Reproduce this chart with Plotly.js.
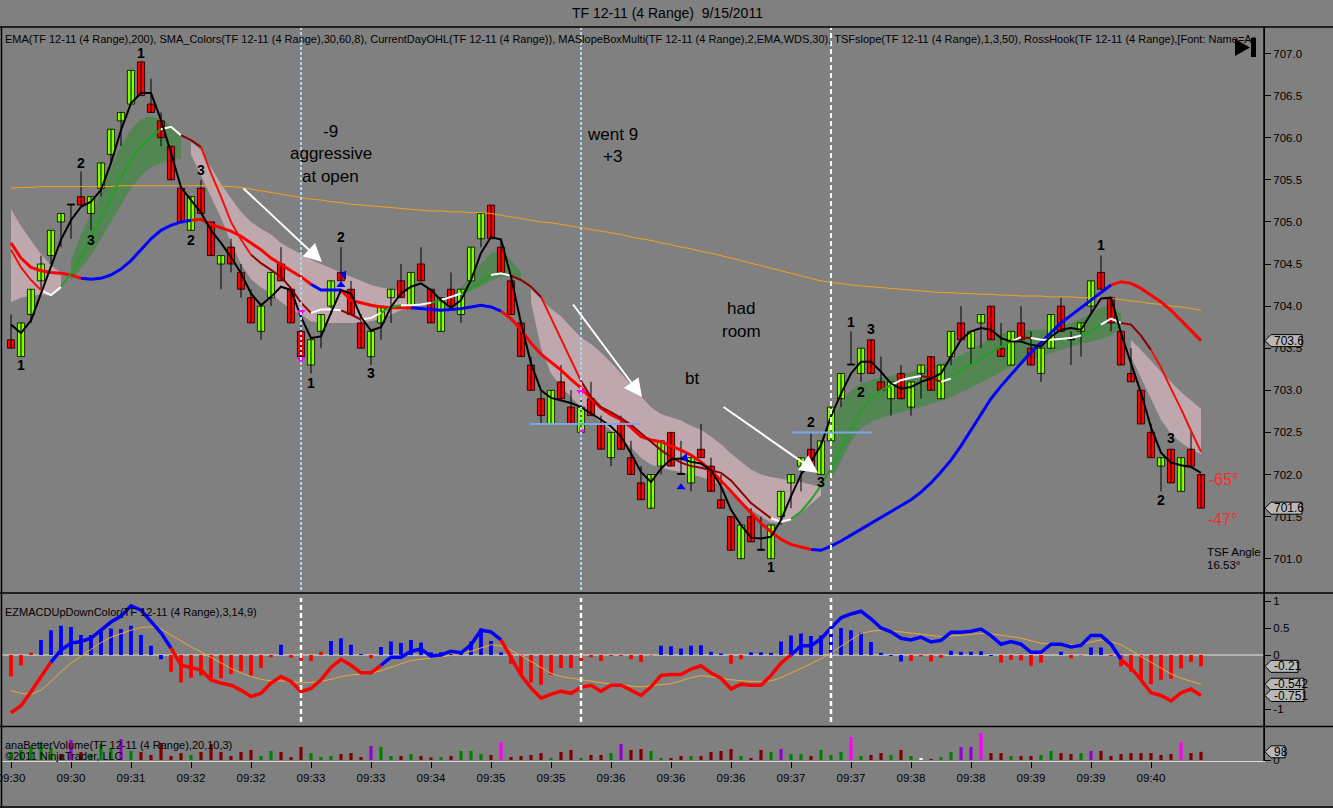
<!DOCTYPE html>
<html><head><meta charset="utf-8">
<script src="https://cdn.plot.ly/plotly-3.0.1.min.js"></script>
<style>html,body{margin:0;padding:0;background:#808080;}#chart{width:1333px;height:808px;}</style>
</head><body><div id="chart"></div>
<script>
// ---------------- DATA ----------------
const timeLabels = ["09:30","09:30","09:31","09:32","09:32","09:33","09:33","09:34","09:35","09:35","09:36","09:36","09:36","09:37","09:37","09:38","09:38","09:39","09:39","09:40"];
const openP = [703.6,703.4,703.9,704.3,704.6,705.0,705.2,705.3,705.1,705.4,705.8,706.2,706.4,706.9,706.4,706.2,705.9,705.4,704.9,705.4,705.0,704.5,704.7,704.4,704.1,703.7,704.1,704.5,704.2,703.7,703.3,703.7,704.0,704.4,704.2,703.8,703.4,703.8,704.1,704.3,704.0,704.5,704.2,703.7,704.2,703.9,704.3,704.8,705.2,704.7,704.3,703.8,703.3,702.9,702.6,703.1,702.8,702.5,702.9,702.6,702.2,702.6,702.2,701.9,701.6,702.1,702.5,702.0,701.9,702.3,702.1,701.7,701.5,701.0,701.5,701.1,701.0,701.5,701.9,702.1,702.3,702.0,702.4,702.9,703.3,703.2,703.6,703.1,702.9,703.2,702.8,703.2,703.4,702.9,703.4,703.8,703.5,703.8,704.0,703.5,703.3,703.8,703.5,703.2,703.5,704.0,703.6,703.7,704.0,704.4,704.1,703.7,703.2,703.0,702.5,702.1,702.3,701.8,702.3,702.0];
const highP = [703.9,703.8,704.2,704.6,704.9,705.1,705.2,705.6,705.3,705.7,706.1,706.3,706.8,706.9,706.7,706.3,705.9,705.4,705.3,705.5,705.0,704.6,704.8,704.5,704.2,704.0,704.4,704.7,704.2,703.8,703.6,703.9,704.3,704.7,704.3,703.9,703.7,704.0,704.2,704.5,704.4,704.7,704.2,704.1,704.4,704.2,704.7,705.1,705.2,704.8,704.3,703.8,703.4,703.0,703.0,703.3,703.0,702.9,703.1,702.7,702.5,702.7,702.4,702.1,702.0,702.4,702.5,702.4,702.2,702.6,702.2,702.0,701.5,701.4,701.6,701.5,701.4,701.8,702.0,702.2,702.5,702.4,702.8,703.2,703.7,703.5,703.6,703.4,703.1,703.3,703.1,703.3,703.4,703.3,703.7,704.0,703.7,703.9,704.0,703.8,703.7,704.0,703.7,703.5,703.9,704.1,703.7,703.8,704.3,704.6,704.1,703.7,703.5,703.0,702.6,702.2,702.3,702.2,702.5,702.0];
const lowP = [703.5,703.4,703.8,704.2,704.5,704.7,704.8,705.2,704.9,705.3,705.7,705.9,706.4,706.5,706.3,705.9,705.5,705.0,704.9,705.1,704.6,704.2,704.4,704.1,703.8,703.6,704.0,704.3,703.8,703.4,703.2,703.5,703.9,704.3,703.9,703.5,703.3,703.6,703.8,704.1,704.0,704.3,703.8,703.7,704.0,703.8,704.3,704.7,704.8,704.4,703.9,703.4,703.0,702.6,702.6,702.9,702.6,702.5,702.7,702.3,702.1,702.3,702.0,701.7,701.6,702.0,702.1,702.0,701.8,702.2,701.8,701.6,701.1,701.0,701.2,701.1,701.0,701.4,701.6,701.8,702.1,702.0,702.4,702.8,703.3,703.1,703.2,703.0,702.7,702.9,702.7,702.9,703.0,702.9,703.3,703.6,703.3,703.5,703.6,703.4,703.3,703.6,703.3,703.1,703.5,703.7,703.3,703.4,703.9,704.2,703.7,703.3,703.1,702.6,702.2,701.8,701.9,701.8,702.1,701.6];
const closeP = [703.5,703.8,704.2,704.5,704.9,705.1,705.2,705.2,705.3,705.7,706.1,706.3,706.8,706.5,706.3,706.0,705.5,705.0,705.3,705.1,704.6,704.6,704.5,704.2,703.8,704.0,704.4,704.3,703.8,703.4,703.6,703.9,704.3,704.3,703.9,703.5,703.7,704.0,704.2,704.1,704.4,704.3,703.8,704.1,704.0,704.2,704.7,705.1,704.8,704.4,703.9,703.4,703.0,702.7,703.0,702.9,702.6,702.8,702.7,702.3,702.5,702.3,702.0,701.7,702.0,702.4,702.1,702.0,702.2,702.2,701.8,701.6,701.1,701.4,701.2,701.1,701.4,701.8,702.0,702.2,702.1,702.4,702.8,703.2,703.3,703.5,703.2,703.0,703.1,702.9,703.1,703.3,703.0,703.3,703.7,703.6,703.7,703.9,703.6,703.4,703.7,703.6,703.3,703.5,703.9,703.7,703.6,703.8,704.3,704.2,703.8,703.3,703.1,702.6,702.2,702.2,701.9,702.2,702.1,701.6];
const ema200 = [705.40,705.41,705.41,705.42,705.42,705.42,705.42,705.42,705.42,705.42,705.42,705.43,705.43,705.43,705.43,705.43,705.43,705.43,705.43,705.43,705.43,705.42,705.42,705.41,705.39,705.37,705.35,705.33,705.31,705.29,705.27,705.26,705.24,705.23,705.21,705.20,705.19,705.18,705.17,705.16,705.15,705.14,705.13,705.13,705.12,705.12,705.11,705.11,705.10,705.08,705.06,705.04,705.02,705.00,704.99,704.97,704.95,704.93,704.91,704.89,704.87,704.85,704.82,704.80,704.78,704.75,704.73,704.70,704.68,704.65,704.63,704.60,704.57,704.54,704.51,704.48,704.45,704.42,704.39,704.36,704.33,704.30,704.28,704.27,704.25,704.24,704.23,704.22,704.21,704.20,704.19,704.18,704.17,704.16,704.16,704.15,704.15,704.14,704.14,704.13,704.13,704.12,704.12,704.12,704.11,704.11,704.11,704.10,704.10,704.10,704.09,704.08,704.06,704.05,704.03,704.02,704.00,703.99,703.97,703.95];
const fastLine = [703.78,703.68,703.83,704.15,704.46,704.79,705.02,705.18,705.24,705.38,705.70,706.09,706.41,706.53,706.53,706.21,705.82,705.41,705.26,705.11,704.90,704.75,704.58,704.39,704.15,704.01,704.11,704.23,704.19,703.87,703.62,703.64,703.92,704.19,704.15,703.87,703.71,703.75,703.99,704.15,704.23,704.27,704.19,704.07,703.98,704.07,704.31,704.63,704.82,704.79,704.35,703.80,703.32,703.00,702.91,702.88,702.85,702.80,702.73,702.65,702.57,702.45,702.25,702.03,701.91,702.07,702.18,702.19,702.15,702.13,702.05,701.86,701.58,701.40,701.25,701.24,701.26,701.46,701.74,702.00,702.15,702.35,702.69,702.96,703.20,703.34,703.34,703.22,703.08,703.02,703.04,703.10,703.14,703.20,703.40,703.60,703.70,703.74,703.72,703.62,703.58,703.58,703.54,703.52,703.64,703.72,703.74,703.72,703.91,704.09,704.10,703.68,703.32,702.97,702.56,702.26,702.14,702.11,702.09,702.02];
const midLine = [704.67,704.46,704.31,704.19,704.13,704.23,704.39,704.58,704.82,705.06,705.30,705.53,705.74,705.89,706.01,706.10,706.13,706.03,705.97,705.89,705.58,705.30,705.00,704.79,704.61,704.51,704.43,704.35,704.21,704.04,703.92,703.96,703.96,703.95,703.90,703.84,703.86,703.92,703.99,704.01,704.01,704.02,704.04,704.07,704.11,704.15,704.21,704.29,704.37,704.39,704.36,704.31,704.23,704.11,703.86,703.60,703.36,703.11,702.92,702.80,702.74,702.67,702.59,702.49,702.39,702.29,702.21,702.14,702.10,702.08,702.05,702.02,701.93,701.79,701.66,701.57,701.48,701.44,701.47,701.56,701.70,701.87,702.07,702.30,702.55,702.75,702.90,703.00,703.06,703.12,703.15,703.17,703.15,703.10,703.14,703.25,703.30,703.38,703.45,703.52,703.58,703.63,703.62,703.60,703.60,703.61,703.62,703.65,703.70,703.78,703.85,703.80,703.78,703.65,703.48,703.27,703.02,702.78,702.52,702.27];
const midRuns = [["D",4],["f",2],["u",10],["f",2],["d",2],["D",5],["d",6],["f",3],["d",2],["f",2],["u",2],["f",3],["u",1],["f",2],["u",3],["f",2],["d",3],["D",4],["d",19],["f",2],["u",10],["f",3],["d",2],["f",1],["u",6],["f",1],["d",1],["f",5],["u",2],["f",2],["d",3],["D",5]];
const slowLine = [704.75,704.57,704.46,704.42,704.40,704.39,704.37,704.33,704.32,704.33,704.37,704.44,704.54,704.67,704.80,704.90,704.96,705.00,705.02,705.03,704.97,704.93,704.89,704.83,704.75,704.67,704.57,704.49,704.42,704.35,704.26,704.19,704.19,704.19,704.07,704.04,704.01,703.99,703.98,703.98,703.98,703.97,703.96,703.95,703.96,703.97,703.99,704.01,703.99,703.94,703.85,703.72,703.56,703.43,703.34,703.24,703.13,703.03,702.90,702.79,702.71,702.65,702.56,702.45,702.41,702.39,702.34,702.29,702.23,702.15,702.05,701.93,701.80,701.67,701.54,701.42,701.32,701.23,701.17,701.14,701.11,701.10,701.15,701.21,701.28,701.35,701.42,701.48,701.55,701.63,701.70,701.79,701.90,702.03,702.17,702.34,702.53,702.72,702.90,703.05,703.19,703.32,703.45,703.57,703.69,703.80,703.89,703.98,704.07,704.17,704.25,704.29,704.27,704.21,704.13,704.05,703.95,703.83,703.72,703.59];
const slowRuns = [["r",8],["b",11],["r",12],["b",3],["r",7],["b",9],["r",31],["b",30],["r",9]];
const bandHi = [705.15,704.95,704.78,704.62,704.48,704.40,704.55,704.85,705.10,705.35,705.65,705.90,706.10,706.22,706.25,706.22,706.15,706.00,705.95,705.85,705.65,705.45,705.28,705.12,705.00,704.92,704.85,704.75,704.68,704.62,704.55,704.50,704.45,704.40,704.35,704.30,704.25,704.22,704.20,704.18,704.16,null,null,null,704.15,704.22,704.35,704.50,704.63,704.65,704.55,704.40,704.20,704.08,703.97,703.88,703.75,703.63,703.55,703.45,703.33,703.20,703.07,702.93,702.80,702.72,702.68,702.64,702.58,702.53,702.45,702.36,702.25,702.15,702.06,702.00,701.97,701.95,701.93,701.91,701.88,701.85,702.60,702.85,703.00,703.08,703.12,703.15,703.17,703.20,703.22,703.25,703.28,703.32,703.36,703.42,703.48,703.55,703.62,703.67,703.70,703.72,703.72,703.72,703.72,703.75,703.80,703.85,703.92,703.98,704.02,703.90,703.60,703.48,703.35,703.22,703.10,702.98,702.88,702.78];
const bandLo = [704.05,704.10,704.12,704.14,704.12,704.20,704.30,704.45,704.60,704.80,705.00,705.20,705.40,705.55,705.65,705.70,705.75,705.75,705.80,705.55,705.30,705.05,704.75,704.50,704.32,704.22,704.15,704.05,703.97,703.90,703.82,703.80,703.80,703.80,703.80,703.80,703.82,703.85,703.90,703.95,703.98,null,null,null,704.10,704.13,704.18,704.24,704.30,704.35,704.35,704.30,704.05,703.50,703.20,703.05,702.92,702.80,702.72,702.62,702.52,702.42,702.32,702.20,702.12,702.08,702.05,702.03,702.00,701.97,701.93,701.87,701.78,701.68,701.58,701.50,701.43,701.42,701.45,701.55,701.65,701.75,701.95,702.15,702.40,702.55,702.62,702.67,702.71,702.74,702.77,702.80,702.84,702.88,702.92,702.98,703.03,703.09,703.15,703.22,703.28,703.32,703.37,703.41,703.44,703.48,703.52,703.55,703.58,703.61,703.65,703.75,703.40,703.15,702.90,702.65,702.48,702.38,702.30,702.24];
const bandRuns = [["p",6],["g",12],["p",23],["-",3],["g",8],["p",30],["g",30],["p",8]];
const macdLine = [-1.07,-0.94,-0.68,-0.40,-0.13,0.09,0.22,0.25,0.31,0.45,0.61,0.72,0.91,0.83,0.61,0.41,0.13,-0.19,-0.23,-0.28,-0.46,-0.52,-0.56,-0.65,-0.77,-0.71,-0.52,-0.40,-0.49,-0.68,-0.62,-0.46,-0.23,-0.08,-0.19,-0.33,-0.33,-0.19,-0.04,-0.04,0.07,0.11,-0.02,0.00,0.07,0.04,0.19,0.46,0.43,0.28,-0.03,-0.37,-0.61,-0.80,-0.73,-0.67,-0.71,-0.60,-0.56,-0.67,-0.56,-0.56,-0.65,-0.75,-0.59,-0.38,-0.36,-0.36,-0.26,-0.20,-0.33,-0.43,-0.63,-0.54,-0.56,-0.56,-0.38,-0.15,0.00,0.17,0.17,0.30,0.50,0.69,0.76,0.81,0.67,0.50,0.43,0.31,0.28,0.33,0.24,0.27,0.42,0.42,0.44,0.48,0.36,0.20,0.25,0.20,0.05,0.05,0.20,0.20,0.15,0.18,0.36,0.36,0.20,-0.08,-0.24,-0.46,-0.70,-0.75,-0.85,-0.70,-0.63,-0.751];
const macdRuns = [["r",5],["b",12],["r",21],["b",12],["r",29],["b",33],["r",8]];
const signalLine = [-0.66,-0.71,-0.73,-0.65,-0.49,-0.31,-0.15,-0.02,0.10,0.23,0.33,0.40,0.46,0.51,0.52,0.48,0.37,0.25,0.15,0.06,-0.04,-0.15,-0.25,-0.33,-0.40,-0.45,-0.48,-0.48,-0.49,-0.52,-0.51,-0.49,-0.45,-0.40,-0.37,-0.35,-0.34,-0.29,-0.23,-0.17,-0.10,-0.08,-0.06,-0.04,-0.01,0.03,0.07,0.13,0.19,0.17,0.09,-0.01,-0.12,-0.24,-0.34,-0.40,-0.43,-0.46,-0.49,-0.52,-0.54,-0.56,-0.58,-0.59,-0.57,-0.55,-0.53,-0.48,-0.42,-0.38,-0.40,-0.43,-0.46,-0.48,-0.49,-0.49,-0.48,-0.42,-0.34,-0.25,-0.16,-0.07,0.04,0.16,0.28,0.40,0.44,0.46,0.45,0.43,0.40,0.38,0.36,0.34,0.35,0.37,0.39,0.40,0.39,0.37,0.34,0.31,0.27,0.22,0.20,0.19,0.19,0.20,0.24,0.28,0.25,0.19,0.08,-0.03,-0.14,-0.25,-0.35,-0.43,-0.49,-0.542];
const macdHist = [-0.40,-0.19,0.04,0.28,0.46,0.54,0.52,0.37,0.37,0.46,0.49,0.48,0.54,0.37,0.17,-0.08,-0.31,-0.51,-0.42,-0.38,-0.42,-0.43,-0.35,-0.30,-0.38,-0.24,-0.04,0.19,-0.05,-0.10,-0.11,0.06,0.26,0.31,0.19,0.02,-0.06,0.15,0.25,0.22,0.28,0.23,0.05,0.05,0.02,0.05,0.25,0.49,0.26,0.05,-0.16,-0.37,-0.51,-0.55,-0.37,-0.24,-0.24,-0.11,-0.04,-0.11,-0.02,-0.02,-0.08,-0.13,-0.01,0.17,0.16,0.12,0.17,0.18,0.06,0.03,-0.16,-0.08,0.05,0.05,0.04,0.25,0.36,0.40,0.35,0.36,0.40,0.50,0.46,0.41,0.24,0.04,-0.02,-0.12,-0.11,-0.03,-0.12,-0.05,0.08,0.06,0.06,0.07,-0.02,-0.14,-0.09,-0.10,-0.20,-0.14,0.00,0.06,-0.06,-0.01,0.14,0.14,-0.02,-0.21,-0.31,-0.45,-0.54,-0.46,-0.44,-0.25,-0.13,-0.21];
const histRuns = [["r",3],["b",13],["r",11],["b",1],["r",4],["b",4],["r",1],["b",13],["r",15],["b",7],["r",2],["b",16],["r",4],["b",5],["r",5],["b",2],["r",2],["b",2],["r",10]];
const volume = [96,120,156,204,144,72,240,96,72,192,144,252,108,96,60,204,48,84,60,96,192,96,48,96,120,48,108,96,36,156,84,36,48,72,84,36,168,156,48,48,72,48,30,36,48,108,108,72,60,216,36,48,60,84,24,96,120,24,60,60,84,192,120,132,108,24,24,48,48,48,96,108,132,48,24,120,96,132,72,72,48,120,60,96,276,48,60,84,60,120,48,24,12,36,96,156,156,324,84,84,48,48,48,60,108,84,72,84,108,108,48,72,84,84,84,60,72,216,84,98];
const volKind = "gggggrprgggpgrrrrrgrrrrrrggrrrgggrrrpggrgrrgrgggrmrrrrgrrgrrgprrggrrgrrrrgrrgpggrgggmgrrgrgwrggppmrrgrrggrrgprrrrrrrrmrr";
const signalBars = [29,29,57,57,33,33.3,67,67.4];
const signalPrices = [703.93,703.37,702.98,702.52,704.25,704.37,701.85,702.2];
const signalSymbols = ["triangle-down","triangle-down","triangle-down","triangle-right","triangle-up","triangle-left","triangle-up","triangle-left"];
const signalKinds = ["pink","pink","pink","pink","blue","blue","blue","blue"];
const eventBars = [29,57,82];
const levelLines = [[51.9,62.9,702.6],[78.1,86.1,702.5]];
const priceTicks = [701.0,701.5,702.0,702.5,703.0,703.5,704.0,704.5,705.0,705.5,706.0,706.5,707.0];

// ---------------- HELPERS ----------------
const N = closeP.length;
const idx = Array.from({length:N},(_,i)=>i);
const expand = runs => { const o=[]; runs.forEach(([c,n])=>{for(let k=0;k<n;k++)o.push(c);}); return o; };
const PX = px => (px-2)/1262;
const PY = py => (761-py)/734;
const priceY = p => 53.5 + (707-p)*84.2;
const macdY = v => 655 - v*54;
const volY = v => 760 - v/12;
const FONT = 'Liberation Sans, Arial, sans-serif';

function coloredLine(vals, states, colors, width, yaxis){
  const out=[]; let s=0;
  while(s<N){ let e=s; while(e+1<N && states[e+1]===states[s]) e++;
    const from=Math.max(0,s-1); const xs=[],ys=[];
    for(let i=from;i<=e;i++){xs.push(i);ys.push(vals[i]);}
    out.push({type:'scatter',mode:'lines',x:xs,y:ys,yaxis:yaxis,line:{color:colors[states[s]],width:width},hoverinfo:'skip',showlegend:false});
    s=e+1; }
  return out;
}
function bandShapes(){
  const kinds=expand(bandRuns); const out=[]; let s=0;
  const fills={p:'rgba(240,200,210,0.55)',g:'rgba(40,140,40,0.5)'};
  while(s<N){ let e=s; while(e+1<N && kinds[e+1]===kinds[s]) e++;
    if(kinds[s]!=='-'){ let d='';
      for(let i=s;i<=e;i++) d += (i===s?'M ':' L ')+i+','+bandHi[i];
      for(let i=e;i>=s;i--) d += ' L '+i+','+bandLo[i];
      out.push({type:'path',xref:'x',yref:'y',path:d+' Z',fillcolor:fills[kinds[s]],line:{width:0},layer:'below'});
    }
    s=e+1; }
  return out;
}

// ---------------- TRACES ----------------
const traces = [];
const wx=[], wy=[];
idx.forEach(i=>{wx.push(i,i,null); wy.push(lowP[i],highP[i],null);});
traces.push({type:'scatter',mode:'lines',x:wx,y:wy,line:{color:'#000',width:1},hoverinfo:'skip',showlegend:false});
traces.push({type:'bar',x:idx,base:idx.map(i=>Math.min(openP[i],closeP[i])),
  y:idx.map(i=>Math.max(Math.abs(closeP[i]-openP[i]),0.012)),width:0.72,
  marker:{color:idx.map(i=>closeP[i]>openP[i]?'#80ff00':(closeP[i]<openP[i]?'#ff0000':'#000')),line:{color:'#000',width:0.8}},
  hoverinfo:'skip',showlegend:false});
traces.push({type:'scatter',mode:'lines',x:idx,y:ema200,line:{color:'#f0a020',width:1},hoverinfo:'skip',showlegend:false});
traces.push(...coloredLine(slowLine, expand(slowRuns), {r:'#ff0000',b:'#0000ff'}, 3, 'y'));
traces.push(...coloredLine(midLine, expand(midRuns), {u:'#22a022',f:'#ffffff',d:'#8b0000',D:'#ee1111'}, 2, 'y'));
traces.push({type:'scatter',mode:'lines',x:idx,y:fastLine,line:{color:'#000',width:2},hoverinfo:'skip',showlegend:false});
traces.push({type:'scatter',mode:'markers',x:signalBars,y:signalPrices,
  marker:{symbol:signalSymbols,size:8,color:signalKinds.map(k=>k==='pink'?'#ff00ff':'#0000ff')},hoverinfo:'skip',showlegend:false});
const hk=expand(histRuns);
traces.push({type:'bar',x:idx,y:macdHist,yaxis:'y2',width:0.38,marker:{color:hk.map(k=>k==='b'?'#0000ff':'#ff0000'),line:{width:0}},hoverinfo:'skip',showlegend:false});
traces.push({type:'scatter',mode:'lines',x:idx,y:signalLine,yaxis:'y2',line:{color:'#e8a838',width:1},hoverinfo:'skip',showlegend:false});
traces.push(...coloredLine(macdLine, expand(macdRuns), {r:'#ff0000',b:'#0000ff'}, 3.5, 'y2'));
const vcol={g:'#008000',r:'#800000',p:'#9400d3',m:'#ff00ff',w:'#ffffff'};
traces.push({type:'bar',x:idx,y:volume,yaxis:'y3',width:0.32,marker:{color:volKind.split('').map(k=>vcol[k]),line:{width:0}},hoverinfo:'skip',showlegend:false});

// ---------------- SHAPES / ANNOTATIONS ----------------
const shapes=[...bandShapes()], ann=[];
const pline=(x0,y0,x1,y1,color,width,dash)=>shapes.push({type:'line',xref:'paper',yref:'paper',x0:PX(x0),y0:PY(y0),x1:PX(x1),y1:PY(y1),line:{color,width,dash:dash||'solid'},layer:'above'});
pline(0,27,1333,27,'#000',1.5); pline(0,593,1333,593,'#000',1.5); pline(0,726.5,1333,726.5,'#000',1.5);
pline(1.5,27,1.5,808,'#000',1.5); pline(1264,27,1264,761,'#000',1.5); pline(0,807,1333,807,'#000',1.5);
eventBars.forEach((b,k)=>{
  shapes.push({type:'line',xref:'x',yref:'paper',x0:b,x1:b,y0:PY(590),y1:PY(28),line:{color:k<2?'#a8d8f0':'#ffffff',width:2,dash:k<2?'3px,2px':'5px,3px'},layer:'above'});
  shapes.push({type:'line',xref:'x',yref:'paper',x0:b,x1:b,y0:PY(722),y1:PY(598),line:{color:'#ffffff',width:2.5,dash:'5px,3px'},layer:'above'});
});
levelLines.forEach(([a,b,p])=>shapes.push({type:'line',xref:'x',yref:'y',x0:a,x1:b,y0:p,y1:p,line:{color:'#7aa8e6',width:2},layer:'above'}));
shapes.push({type:'line',xref:'paper',yref:'y2',x0:0,x1:1,y0:0,y1:0,line:{color:'#e6e6e6',width:1},layer:'below'});
shapes.push({type:'path',xref:'paper',yref:'paper',path:`M ${PX(1235)},${PY(39)} L ${PX(1235)},${PY(56)} L ${PX(1250)},${PY(47.5)} Z`,fillcolor:'#000',line:{width:0}});
shapes.push({type:'rect',xref:'paper',yref:'paper',x0:PX(1251),x1:PX(1256),y0:PY(57),y1:PY(38),fillcolor:'#000',line:{width:0}});

const txt=(text,px,py,size,opt={})=>ann.push(Object.assign({xref:'paper',yref:'paper',x:PX(px),y:PY(py),text,showarrow:false,
  xanchor:'center',yanchor:'middle',font:{family:FONT,size,color:'#000'}},opt));
function marker(py,label,w){
  shapes.push({type:'path',xref:'paper',yref:'paper',
    path:`M ${PX(1265)},${PY(py)} L ${PX(1271)},${PY(py-6)} L ${PX(1265+w)},${PY(py-6)} L ${PX(1265+w)},${PY(py+6)} L ${PX(1271)},${PY(py+6)} Z`,
    fillcolor:'#b8b8b8',line:{color:'#000',width:1},layer:'above'});
  txt(label,1272,py,12,{xanchor:'left'});
}
marker(priceY(slowLine[N-1]),'703.6',37);
marker(priceY(closeP[N-1]),'701.6',37);
marker(macdY(macdHist[N-1]),'-0.21',33);
marker(macdY(signalLine[N-1]),'-0.542',39);
marker(macdY(macdLine[N-1]),'-0.751',39);
marker(volY(volume[N-1]),'98',20);

txt('TF 12-11 (4 Range)  9/15/2011',667,13,14);
txt('EMA(TF 12-11 (4 Range),200), SMA_Colors(TF 12-11 (4 Range),30,60,8), CurrentDayOHL(TF 12-11 (4 Range)), MASlopeBoxMulti(TF 12-11 (4 Range),2,EMA,WDS,30), TSFslope(TF 12-11 (4 Range),1,3,50), RossHook(TF 12-11 (4 Range),[Font: Name=Ar',3,39.5,11,{xanchor:'left'});
txt('EZMACDUpDownColor(TF 12-11 (4 Range),3,14,9)',3,611.5,11,{xanchor:'left'});
txt('anaBetterVolume(TF 12-11 (4 Range),20,10,3)',3,744.5,11,{xanchor:'left'});
txt('©2011 NinjaTrader, LLC',3,756,11,{xanchor:'left'});
[['-9',330,131],['aggressive',331,154],['at open',330,176],['went 9',612,134],['+3',612,157],['had',741,308],['room',741,331],['bt',692,378]]
  .forEach(([t,x,y])=>txt(t,x,y,17));
[['1',141,53],['2',81,163],['3',91,240],['3',201,170],['2',191,240],['1',21,365],['2',341,237],['1',311,383],['3',371,373],
 ['1',771,567],['2',811,422],['3',821,482],['1',851,322],['3',871,329],['2',861,392],['1',1101,245],['3',1171,438],['2',1161,500]]
  .forEach(([t,x,y])=>txt('<b>'+t+'</b>',x,y,14));
txt('-65°',1207,479,16,{xanchor:'left',font:{family:FONT,size:16,color:'#ff2a2a'}});
txt('-47°',1206,519,16,{xanchor:'left',font:{family:FONT,size:16,color:'#ff2a2a'}});
txt('TSF Angle',1205,552,11.5,{xanchor:'left'});
txt('16.53°',1205,565,11.5,{xanchor:'left'});
const bx = px => (px-11)/10, bp = py => 707-(py-53.5)/84.2;
[[242,187,322,262],[572,303,642,397],[722,406,818,473]].forEach(([x0,y0,x1,y1])=>ann.push({
  xref:'x',yref:'y',axref:'x',ayref:'y',x:bx(x1),y:bp(y1),ax:bx(x0),ay:bp(y0),showarrow:true,text:'',
  arrowcolor:'#ffffff',arrowwidth:2,arrowhead:2,arrowsize:1.8}));

const axFont={family:FONT,size:11.5,color:'#000'};
const layout={
  width:1333,height:808,paper_bgcolor:'#808080',plot_bgcolor:'#808080',
  margin:{l:2,r:69,t:27,b:47},showlegend:false,barmode:'overlay',
  font:{family:FONT,size:11,color:'#000'},
  xaxis:{range:[-0.9,125.3],anchor:'y3',tickvals:timeLabels.map((_,k)=>k*6),ticktext:timeLabels,ticks:'outside',ticklen:6,tickcolor:'#000',
    ticklabeloverflow:'allow',showgrid:false,zeroline:false,showline:true,linecolor:'#d8d8d8',linewidth:1,tickfont:axFont,fixedrange:true},
  yaxis:{domain:[(761-592)/734,1],range:[707-(592-53.5)/84.2,707+(53.5-27)/84.2],side:'right',anchor:'x',tickvals:priceTicks,tickformat:'.1f',
    ticks:'outside',ticklen:6,tickcolor:'#000',showgrid:false,zeroline:false,showline:true,linecolor:'#000',tickfont:axFont},
  yaxis2:{domain:[(761-726)/734,(761-593.5)/734],range:[-(726-655)/54,(655-593.5)/54],side:'right',anchor:'x',tickvals:[-1,0,0.5,1],ticktext:['-1','0','0.5','1'],
    ticks:'outside',ticklen:6,tickcolor:'#000',showgrid:false,zeroline:false,showline:true,linecolor:'#000',tickfont:axFont},
  yaxis3:{domain:[0,(761-727)/734],range:[-12,396],side:'right',anchor:'x',tickvals:[0],ticktext:['0'],
    ticks:'outside',ticklen:6,tickcolor:'#000',showgrid:false,zeroline:false,showline:true,linecolor:'#000',tickfont:axFont},
  shapes:shapes,annotations:ann
};
Plotly.newPlot('chart',traces,layout,{staticPlot:true,displayModeBar:false});
</script></body></html>
